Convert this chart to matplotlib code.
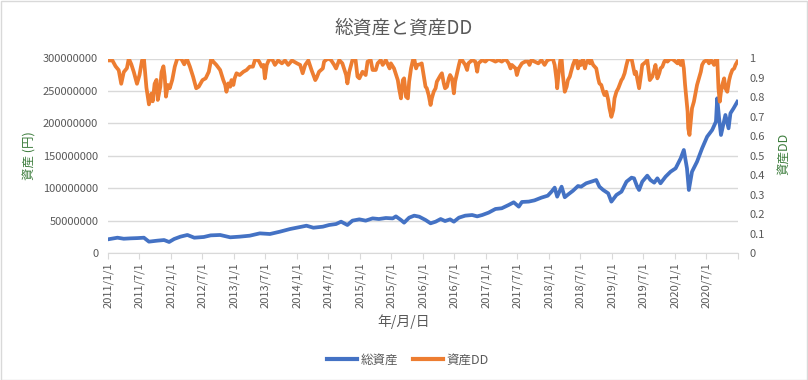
import matplotlib
matplotlib.use("Agg")
import matplotlib.pyplot as plt
from matplotlib.patches import Rectangle
from matplotlib.lines import Line2D

plt.rcParams['font.family'] = ['Noto Sans CJK JP', 'DejaVu Sans']

# 総資産 (百万円), x = 年 (小数)
asset_t = [2011.00, 2011.15, 2011.25, 2011.36, 2011.47, 2011.57, 2011.65, 2011.78, 2011.89, 2011.97,
           2012.05, 2012.15, 2012.26, 2012.37, 2012.52, 2012.63, 2012.78, 2012.94, 2013.09, 2013.25,
           2013.41, 2013.57, 2013.73, 2013.89, 2014.05, 2014.15, 2014.26, 2014.41, 2014.51, 2014.62,
           2014.70, 2014.80, 2014.88, 2014.99, 2015.09, 2015.20, 2015.30, 2015.41, 2015.52, 2015.57,
           2015.65, 2015.70, 2015.78, 2015.86, 2015.94, 2016.04, 2016.12, 2016.20, 2016.28, 2016.35,
           2016.43, 2016.49, 2016.57, 2016.67, 2016.78, 2016.86, 2016.94, 2017.04, 2017.15, 2017.25,
           2017.36, 2017.44, 2017.52, 2017.57, 2017.68, 2017.77, 2017.88, 2017.98, 2018.04, 2018.09,
           2018.13, 2018.20, 2018.25, 2018.30, 2018.38, 2018.46, 2018.51, 2018.59, 2018.67, 2018.75,
           2018.80, 2018.86, 2018.94, 2018.99, 2019.07, 2019.15, 2019.23, 2019.31, 2019.35, 2019.40,
           2019.43, 2019.48, 2019.56, 2019.61, 2019.67, 2019.72, 2019.77, 2019.85, 2019.93, 2020.01,
           2020.09, 2020.14, 2020.19, 2020.22, 2020.27, 2020.35, 2020.43, 2020.51, 2020.59, 2020.65,
           2020.67, 2020.70, 2020.73, 2020.80, 2020.85, 2020.88, 2020.93, 2020.99]
asset_m = [21.1, 23.6, 22.0, 22.6, 23.0, 23.6, 17.5, 19.0, 20.0, 17.0,
           21.6, 25.2, 27.8, 23.6, 24.7, 27.2, 27.8, 24.2, 25.2, 26.7,
           30.3, 29.3, 32.9, 37.0, 40.1, 42.1, 39.0, 40.6, 43.2, 44.7,
           48.3, 43.2, 49.9, 51.9, 49.9, 53.4, 52.4, 54.0, 53.4, 56.5,
           50.9, 46.8, 54.5, 57.6, 56.0, 50.9, 45.8, 48.3, 52.4, 49.3,
           51.9, 48.3, 54.5, 57.6, 58.6, 56.5, 58.6, 62.2, 67.9, 69.0,
           74.1, 78.2, 71.5, 78.7, 79.3, 81.2, 85.4, 88.4, 94.6, 100.8,
           86.9, 102.3, 86.0, 90.0, 96.0, 103.3, 102.3, 107.5, 110.0, 112.6,
           102.3, 97.2, 92.0, 79.2, 89.5, 94.6, 110.0, 116.2, 115.2, 102.3,
           97.2, 110.0, 119.3, 112.6, 108.5, 115.2, 107.5, 117.7, 125.4, 130.6,
           146.0, 158.9, 130.6, 97.2, 125.4, 140.9, 161.4, 179.4, 189.7, 202.6,
           238.6, 207.7, 182.0, 212.9, 192.3, 215.5, 223.2, 233.4]

# 資産DD
dd_t = [2011.00, 2011.07, 2011.12, 2011.17, 2011.21, 2011.25, 2011.30, 2011.33, 2011.37, 2011.41,
        2011.46, 2011.50, 2011.54, 2011.57, 2011.61, 2011.65, 2011.69, 2011.71, 2011.74, 2011.77,
        2011.79, 2011.83, 2011.85, 2011.88, 2011.90, 2011.92, 2011.95, 2011.98, 2012.02, 2012.06,
        2012.10, 2012.16, 2012.21, 2012.25, 2012.30, 2012.35, 2012.40, 2012.44, 2012.50, 2012.55,
        2012.60, 2012.64, 2012.67, 2012.72, 2012.78, 2012.83, 2012.86, 2012.88, 2012.91, 2012.94,
        2012.96, 2012.99, 2013.01, 2013.04, 2013.09, 2013.15, 2013.20, 2013.25, 2013.30, 2013.33,
        2013.36, 2013.40, 2013.44, 2013.47, 2013.49, 2013.52, 2013.55, 2013.60, 2013.65, 2013.70,
        2013.76, 2013.81, 2013.86, 2013.92, 2014.00, 2014.05, 2014.09, 2014.13, 2014.18, 2014.23,
        2014.29, 2014.31, 2014.35, 2014.41, 2014.43, 2014.49, 2014.54, 2014.59, 2014.62, 2014.67,
        2014.72, 2014.78, 2014.80, 2014.83, 2014.88, 2014.93, 2014.96, 2014.99, 2015.04, 2015.09,
        2015.12, 2015.17, 2015.20, 2015.25, 2015.28, 2015.33, 2015.36, 2015.41, 2015.47, 2015.49,
        2015.54, 2015.60, 2015.62, 2015.65, 2015.68, 2015.70, 2015.73, 2015.76, 2015.78, 2015.81,
        2015.84, 2015.86, 2015.89, 2015.91, 2015.95, 2015.98, 2016.01, 2016.04, 2016.06, 2016.09,
        2016.12, 2016.14, 2016.17, 2016.20, 2016.22, 2016.25, 2016.28, 2016.30, 2016.33, 2016.35,
        2016.38, 2016.41, 2016.43, 2016.46, 2016.49, 2016.51, 2016.54, 2016.57, 2016.59, 2016.62,
        2016.67, 2016.70, 2016.72, 2016.78, 2016.83, 2016.86, 2016.88, 2016.94, 2016.99, 2017.04,
        2017.10, 2017.15, 2017.20, 2017.25, 2017.31, 2017.36, 2017.39, 2017.41, 2017.47, 2017.49,
        2017.52, 2017.57, 2017.62, 2017.67, 2017.69, 2017.72, 2017.77, 2017.83, 2017.88, 2017.93,
        2017.96, 2017.98, 2018.03, 2018.06, 2018.09, 2018.12, 2018.13, 2018.15, 2018.18, 2018.20,
        2018.22, 2018.25, 2018.28, 2018.30, 2018.33, 2018.35, 2018.38, 2018.41, 2018.43, 2018.46,
        2018.49, 2018.51, 2018.54, 2018.57, 2018.59, 2018.62, 2018.65, 2018.67, 2018.70, 2018.75,
        2018.78, 2018.80, 2018.83, 2018.86, 2018.88, 2018.91, 2018.94, 2018.96, 2018.99, 2019.02,
        2019.04, 2019.07, 2019.10, 2019.12, 2019.15, 2019.17, 2019.20, 2019.23, 2019.25, 2019.31,
        2019.33, 2019.36, 2019.38, 2019.40, 2019.43, 2019.46, 2019.48, 2019.51, 2019.54, 2019.56,
        2019.59, 2019.60, 2019.64, 2019.67, 2019.69, 2019.72, 2019.75, 2019.77, 2019.80, 2019.83,
        2019.85, 2019.88, 2019.93, 2019.98, 2020.04, 2020.06, 2020.09, 2020.12, 2020.14, 2020.16,
        2020.18, 2020.20, 2020.21, 2020.23, 2020.25, 2020.27, 2020.30, 2020.33, 2020.35, 2020.38,
        2020.41, 2020.43, 2020.46, 2020.51, 2020.54, 2020.57, 2020.59, 2020.62, 2020.65, 2020.67,
        2020.69, 2020.71, 2020.73, 2020.75, 2020.78, 2020.80, 2020.83, 2020.86, 2020.88, 2020.91,
        2020.94, 2020.96, 2020.99]
dd_v = [0.99, 0.99, 0.96, 0.94, 0.87, 0.93, 0.95, 1.00, 0.97, 0.93,
        0.87, 0.915, 0.99, 1.00, 0.85, 0.764, 0.82, 0.78, 0.87, 0.89,
        0.787, 0.855, 0.93, 0.96, 0.907, 0.804, 0.864, 0.847, 0.89, 0.958,
        1.00, 1.00, 0.97, 1.00, 0.958, 0.907, 0.847, 0.855, 0.889, 0.898,
        0.932, 1.00, 0.984, 0.967, 0.941, 0.889, 0.864, 0.829, 0.872, 0.855,
        0.889, 0.864, 0.898, 0.924, 0.915, 0.932, 0.941, 0.958, 0.958, 0.99,
        1.00, 0.984, 0.958, 0.967, 0.898, 0.967, 0.99, 1.00, 0.967, 0.99,
        0.975, 0.99, 0.967, 0.99, 0.975, 0.967, 0.924, 0.967, 0.99, 0.941,
        0.889, 0.90, 0.932, 0.949, 0.984, 1.00, 0.992, 0.967, 0.949, 0.992,
        0.975, 0.915, 0.872, 0.932, 0.992, 0.992, 0.907, 0.898, 0.932, 0.915,
        0.984, 0.992, 0.941, 0.941, 0.975, 0.992, 0.967, 0.992, 0.949, 0.975,
        0.949, 0.889, 0.847, 0.795, 0.889, 0.898, 0.804, 0.795, 0.881, 0.949,
        0.992, 1.00, 0.949, 0.967, 0.97, 0.975, 0.915, 0.855, 0.847, 0.812,
        0.761, 0.795, 0.829, 0.847, 0.881, 0.898, 0.915, 0.924, 0.872, 0.847,
        0.855, 0.898, 0.915, 0.898, 0.821, 0.881, 0.924, 0.967, 0.992, 0.992,
        0.967, 0.941, 0.975, 0.992, 0.984, 0.932, 0.975, 0.992, 0.984, 1.00,
        0.992, 0.984, 0.992, 0.984, 0.998, 0.975, 0.949, 0.967, 0.949, 0.915,
        0.949, 0.975, 0.984, 0.984, 0.967, 0.992, 0.984, 0.975, 0.992, 0.967,
        0.984, 0.992, 0.997, 1.00, 0.967, 0.889, 0.847, 0.915, 0.992, 1.00,
        0.915, 0.829, 0.855, 0.889, 0.907, 0.932, 0.967, 0.992, 1.00, 0.949,
        0.984, 0.967, 1.00, 0.949, 0.975, 0.992, 0.975, 0.992, 0.967, 0.949,
        0.898, 0.872, 0.864, 0.829, 0.812, 0.829, 0.787, 0.744, 0.70, 0.735,
        0.795, 0.829, 0.847, 0.864, 0.889, 0.898, 0.924, 0.967, 0.992, 1.00,
        0.967, 0.92, 0.932, 0.898, 0.847, 0.915, 0.967, 0.975, 0.984, 0.992,
        0.915, 0.889, 0.907, 0.941, 0.967, 0.898, 0.924, 0.949, 0.958, 0.984,
        0.992, 0.984, 1.00, 0.992, 0.975, 0.992, 0.967, 0.992, 0.949, 0.864,
        0.795, 0.727, 0.641, 0.607, 0.675, 0.744, 0.778, 0.829, 0.864, 0.898,
        0.932, 0.967, 0.984, 0.992, 0.975, 0.992, 0.984, 0.967, 1.00, 1.00,
        0.847, 0.778, 0.829, 0.864, 0.898, 0.847, 0.829, 0.889, 0.915, 0.941,
        0.949, 0.967, 0.984]

x_labels = ['2011/1/1', '2011/7/1', '2012/1/1', '2012/7/1', '2013/1/1', '2013/7/1',
            '2014/1/1', '2014/7/1', '2015/1/1', '2015/7/1', '2016/1/1', '2016/7/1',
            '2017/1/1', '2017/7/1', '2018/1/1', '2018/7/1', '2019/1/1', '2019/7/1',
            '2020/1/1', '2020/7/1']
left_ticks = [0, 50000000, 100000000, 150000000, 200000000, 250000000, 300000000]
right_ticks = [0, 0.1, 0.2, 0.3, 0.4, 0.5, 0.6, 0.7, 0.8, 0.9, 1]
right_labels = ['0', '0.1', '0.2', '0.3', '0.4', '0.5', '0.6', '0.7', '0.8', '0.9', '1']

blue = '#4472C4'
orange = '#ED7D31'
gray = '#595959'
grid = '#D9D9D9'
W, H = 808, 380

fig = plt.figure(figsize=(W / 100, H / 100), dpi=100)
fig.patches.append(Rectangle((0.5 / W, 0.5 / H), 1 - 1.5 / W, 1 - 1.5 / H, transform=fig.transFigure,
                             fill=False, edgecolor=grid, lw=1))

ax = fig.add_axes([108 / W, 1 - 253 / H, 630 / W, 194.5 / H])
ax2 = ax.twinx()

asset_yen = [v * 1e6 for v in asset_m]
ax.plot(asset_t, asset_yen, color=blue, lw=2.7, solid_joinstyle='round')
ax2.plot(dd_t, dd_v, color=orange, lw=2.7, solid_joinstyle='round')

ax.set_xlim(2011, 2021)
ax.set_ylim(0, 300000000)
ax2.set_ylim(0, 1)

ax.set_yticks(left_ticks)
ax.set_yticklabels([str(v) for v in left_ticks])
ax2.set_yticks(right_ticks)
ax2.set_yticklabels(right_labels)

xpos = [2011 + 0.5 * i for i in range(len(x_labels))]
ax.set_xticks(xpos + [2021])
ax.set_xticklabels(x_labels + [''], rotation=90)

ax.yaxis.grid(True, color=grid, lw=1)
ax.set_axisbelow(True)
for a in (ax, ax2):
    for s in ('top', 'left', 'right'):
        a.spines[s].set_visible(False)
    a.spines['bottom'].set_color(grid)
ax2.spines['bottom'].set_visible(False)

ax.tick_params(axis='y', length=0, labelsize=8, labelcolor=gray, pad=7)
ax2.tick_params(axis='y', length=0, labelsize=8, labelcolor=gray, pad=8)
ax.tick_params(axis='x', length=4, color=grid, labelsize=8, labelcolor=gray, pad=3)

fig.text(404 / W, 1 - 28 / H, '総資産と資産DD', ha='center', va='center', fontsize=13.5, color=gray)
fig.text(404 / W, 1 - 322 / H, '年/月/日', ha='center', va='center', fontsize=10, color=gray)
fig.text(30 / W, 1 - 156 / H, '資産 (円)', ha='center', va='center', rotation=90, fontsize=9, color='#3d7d3d')
fig.text(784 / W, 1 - 154 / H, '資産DD', ha='center', va='center', rotation=90, fontsize=9, color='#3d7d3d')

handles = [Line2D([], [], color=blue, lw=3), Line2D([], [], color=orange, lw=3)]
fig.legend(handles, ['総資産', '資産DD'], loc='center', bbox_to_anchor=(408 / W, 1 - 360 / H), ncol=2,
           frameon=False, fontsize=9, labelcolor=gray, handlelength=2.4, handletextpad=0.3,
           columnspacing=1.2)

fig.savefig('out.png', dpi=100)
